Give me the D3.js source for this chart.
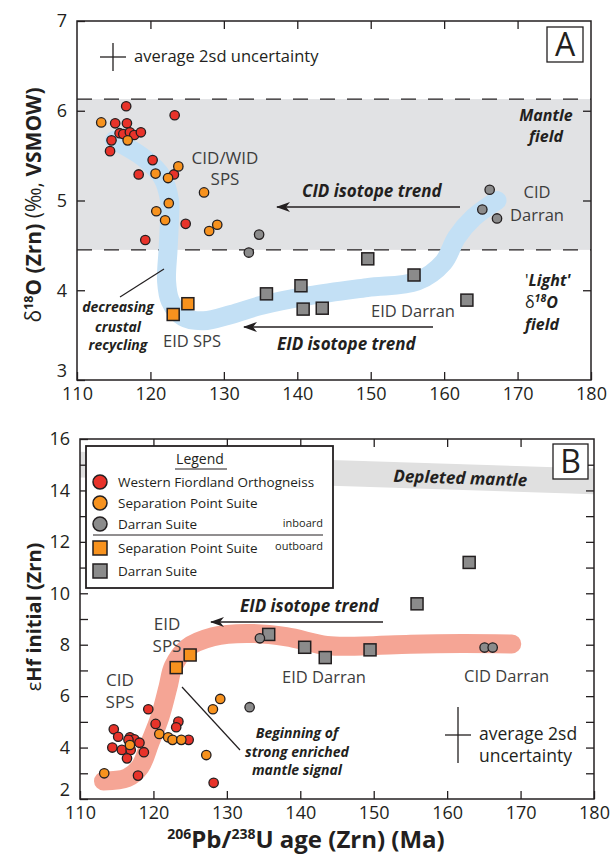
<!DOCTYPE html>
<html><head><meta charset="utf-8">
<script src="https://cdn.jsdelivr.net/npm/d3@7"></script>
<style>body{margin:0;background:#fff}svg{display:block}text{font-family:"Open Sans",sans-serif}</style>
</head><body><svg id="c" width="616" height="855"></svg>
<script>
// ---------- DATA ----------
const xTicks = [110,120,130,140,150,160,170,180];
const yTicksA = [3,4,5,6,7];
const yTicksB = [2,3,4,5,6,7,8,9,10,11,12,13,14,15,16];
const mantleField = [4.45, 6.13];

// Panel A: [age Ma, d18O]
const aWFO = [[116.7,6.05],[115.2,5.86],[116.8,5.86],[123.3,5.95],[115.8,5.75],[116.3,5.74],[117.2,5.76],[117.8,5.73],[118.7,5.76],[114.7,5.67],[114.5,5.55],[120.3,5.45],[118.4,5.29],[123.2,5.29],[124.8,4.74],[119.3,4.56]];
const aSPS = [[113.3,5.87],[116.9,5.67],[123.8,5.38],[120.7,5.30],[122.4,5.25],[127.3,5.09],[122.5,4.97],[120.8,4.88],[122.0,4.78],[128.0,4.66],[129.1,4.73]];
const aDarranIn = [[134.8,4.62],[133.4,4.42],[166.2,5.12],[165.2,4.90],[167.2,4.80]];
const aSPSout = [[123.1,3.73],[125.1,3.85]];
const aDarranOut = [[135.8,3.96],[140.5,4.05],[140.8,3.79],[143.4,3.80],[149.6,4.35],[155.9,4.17],[163.1,3.89]];
const aTrend = [[115.1,5.67],[119.0,5.48],[121.6,5.26],[122.6,5.0],[122.6,4.8],[122.4,4.45],[122.2,4.1],[122.7,3.88],[124.5,3.70],[127.2,3.66],[131,3.73],[135,3.83],[141.7,3.94],[149.5,4.03],[156.3,4.1],[159.9,4.31],[161.7,4.59],[164.0,4.81],[167.2,5.0]];

// Panel B: [age Ma, eHf]
const bWFO = [[119.3,5.49],[120.3,4.92],[123.4,5.01],[123.1,4.79],[124.8,4.30],[114.6,4.71],[115.2,4.42],[116.8,4.40],[117.4,4.32],[118.1,4.19],[116.6,4.30],[114.4,4.0],[115.7,3.91],[116.9,3.91],[118.7,3.82],[116.4,3.58],[117.9,2.91],[128.2,2.63]];
const bSPS = [[120.8,4.53],[122.0,4.40],[122.6,4.30],[123.8,4.30],[116.8,4.10],[113.3,3.0],[127.2,3.71],[128.1,5.49],[129.1,5.89]];
const bDarranIn = [[134.5,8.25],[133.1,5.57],[165.1,7.89],[166.2,7.89]];
const bSPSout = [[123.1,7.11],[125.0,7.60]];
const bDarranOut = [[135.7,8.40],[140.6,7.90],[143.4,7.50],[149.5,7.80],[155.9,9.59],[163.0,11.2]];
const bTrend = [[113.2,2.7],[116.4,2.82],[118.2,3.26],[119.5,4.17],[120.9,5.2],[122.0,6.37],[122.7,7.15],[124.5,7.86],[128.1,8.31],[132.7,8.44],[138.1,8.31],[143.6,7.97],[148.5,7.95],[155,8.02],[162,8.05],[168.8,8.03]];
const depletedMantle = [[110,15.0],[180,14.35]];
const dmHalfWidth = 0.5;

const legendLabels = ["Western Fiordland Orthogneiss","Separation Point Suite","Darran Suite","Separation Point Suite","Darran Suite"];

// ---------- STYLE ----------
const C = {red:"#e8332a", orange:"#f7921e", grey:"#8b8b8b", ink:"#231f20", lab:"#3d3d3d",
           shade:"#e1e2e4", blue:"#c3e0f5", salmon:"#f5a595", dm:"#e0e0e0"};

const svg = d3.select("#c");
const defs = svg.append("defs");
defs.append("marker").attr("id","arr").attr("viewBox","-14 -6 16 12")
  .attr("markerWidth",16).attr("markerHeight",12).attr("refX",0).attr("refY",0)
  .attr("markerUnits","userSpaceOnUse").attr("orient","auto")
  .append("path").attr("d","M1,0 L-13,-5 L-9,0 L-13,5 Z").attr("fill",C.ink);

// scales
const xA = d3.scaleLinear().domain([110,180]).range([77,591]);
const yA = d3.scaleLinear().domain([3,7]).range([380,21]);
const xB = d3.scaleLinear().domain([110,180]).range([80,594]);
const yB = d3.scaleLinear().domain([2,16]).range([799,439]);

function styleAxis(g, fs){
  g.select(".domain").remove();
  g.selectAll(".tick line").attr("stroke",C.ink).attr("stroke-width",1.3);
  g.selectAll(".tick text").attr("fill",C.ink).attr("font-size",fs).attr("font-family","Open Sans");
  return g;
}

function marks(g, x, y, data, shape, color){
  if(shape==="c"){
    g.selectAll(null).data(data).enter().append("circle")
      .attr("cx",d=>x(d[0])).attr("cy",d=>y(d[1])).attr("r",4.7)
      .attr("fill",color).attr("stroke",C.ink).attr("stroke-width",1.3);
  } else {
    const s=12;
    g.selectAll(null).data(data).enter().append("rect")
      .attr("x",d=>x(d[0])-s/2).attr("y",d=>y(d[1])-s/2).attr("width",s).attr("height",s)
      .attr("fill",color).attr("stroke",C.ink).attr("stroke-width",1.5);
  }
}

function txt(x,y,s,o={}){
  const t = svg.append("text").attr("x",x).attr("y",y).text(s)
    .attr("font-size",o.fs||15).attr("fill",o.fill||C.ink)
    .attr("text-anchor",o.anchor||"start");
  if(o.bi){t.attr("font-weight","bold").attr("font-style","italic");}
  if(o.b){t.attr("font-weight","bold");}
  return t;
}
function arrow(x1,x2,y){
  svg.append("line").attr("x1",x1).attr("x2",x2).attr("y1",y).attr("y2",y)
    .attr("stroke",C.ink).attr("stroke-width",1.5).attr("marker-end","url(#arr)");
}
function cross(cx,cy,hw,vh){
  svg.append("line").attr("x1",cx-hw).attr("x2",cx+hw).attr("y1",cy).attr("y2",cy).attr("stroke",C.ink).attr("stroke-width",1.3);
  svg.append("line").attr("x1",cx).attr("x2",cx).attr("y1",cy-vh).attr("y2",cy+vh).attr("stroke",C.ink).attr("stroke-width",1.3);
}
const fmt = d3.format("d");

// ---------- PANEL A ----------
const gA = svg.append("g");
gA.append("rect").attr("x",xA(110)).attr("width",xA(180)-xA(110))
  .attr("y",yA(mantleField[1])).attr("height",yA(mantleField[0])-yA(mantleField[1])).attr("fill",C.shade);
mantleField.forEach(v=>{
  gA.append("line").attr("x1",xA(110)).attr("x2",xA(180)).attr("y1",yA(v)).attr("y2",yA(v))
    .attr("stroke",C.ink).attr("stroke-width",1.4).attr("stroke-dasharray","15 12");
});
gA.append("path").datum(aTrend)
  .attr("d",d3.line().x(d=>xA(d[0])).y(d=>yA(d[1])).curve(d3.curveCatmullRom))
  .attr("fill","none").attr("stroke",C.blue).attr("stroke-width",19).attr("stroke-linecap","round").attr("stroke-linejoin","round");

styleAxis(gA.append("g").attr("transform","translate(0,380)")
  .call(d3.axisBottom(xA).tickValues(xTicks).tickSize(-8).tickPadding(7).tickFormat(fmt)),18);
styleAxis(gA.append("g").attr("transform","translate(0,21)")
  .call(d3.axisTop(xA).tickValues(xTicks.slice(1,-1)).tickSize(-8).tickFormat("")),18);
styleAxis(gA.append("g").attr("transform","translate(77,0)")
  .call(d3.axisLeft(yA).tickValues(yTicksA).tickSize(-8).tickPadding(10).tickFormat(fmt)),18)
  .selectAll(".tick text").filter(d=>d===3).attr("dy","-0.2em");
styleAxis(gA.append("g").attr("transform","translate(591,0)")
  .call(d3.axisRight(yA).tickValues(yTicksA.slice(1,-1)).tickSize(-8).tickFormat("")),18);
gA.append("rect").attr("x",77).attr("y",21).attr("width",514).attr("height",359)
  .attr("fill","none").attr("stroke",C.ink).attr("stroke-width",1.5);

marks(gA,xA,yA,aDarranOut,"s",C.grey);
marks(gA,xA,yA,aSPSout,"s",C.orange);
marks(gA,xA,yA,aDarranIn,"c",C.grey);
marks(gA,xA,yA,aWFO,"c",C.red);
marks(gA,xA,yA,aSPS,"c",C.orange);

// Panel A annotations
cross(113,57,13,14);
txt(134,62,"average 2sd uncertainty",{fs:16.5});
svg.append("rect").attr("x",547).attr("y",27).attr("width",36).attr("height",35).attr("fill","#fff").attr("stroke",C.ink).attr("stroke-width",1.3);
txt(565,56,"A",{fs:32,anchor:"middle"});
txt(546,121,"Mantle",{fs:16,bi:1,anchor:"middle"});
txt(546,142,"field",{fs:16,bi:1,anchor:"middle"});
txt(225,164,"CID/WID",{fs:17,fill:C.lab,anchor:"middle"});
txt(225,185,"SPS",{fs:17,fill:C.lab,anchor:"middle"});
txt(302,197,"CID isotope trend",{fs:17,bi:1});
arrow(460,277,207);
txt(537,198,"CID",{fs:16.5,fill:C.lab,anchor:"middle"});
txt(537,221,"Darran",{fs:16.5,fill:C.lab,anchor:"middle"});
{
  const t=txt(525,286,"'",{fs:16});
  t.append("tspan").text("Light'").attr("font-weight","bold").attr("font-style","italic");
  const t2=txt(525,308,"δ",{fs:16});
  t2.append("tspan").text("18").attr("font-size",10.5).attr("dy",-6).attr("font-weight","bold").attr("font-style","italic");
  t2.append("tspan").text("O").attr("dy",6).attr("font-weight","bold").attr("font-style","italic");
  txt(525,330,"field",{fs:16,bi:1});
}
txt(371,317,"EID Darran",{fs:16.5,fill:C.lab});
txt(277,350,"EID isotope trend",{fs:17,bi:1});
arrow(433,244,327);
txt(163,347,"EID SPS",{fs:16.5,fill:C.lab});
txt(118,312,"decreasing",{fs:14,bi:1,anchor:"middle"});
txt(118,332,"crustal",{fs:14,bi:1,anchor:"middle"});
txt(118,350,"recycling",{fs:14,bi:1,anchor:"middle"});
svg.append("line").attr("x1",120).attr("y1",297).attr("x2",164).attr("y2",269).attr("stroke",C.ink).attr("stroke-width",1.2);

// ---------- PANEL B ----------
const gB = svg.append("g");
const dmPoly = depletedMantle.map(d=>[xB(d[0]),yB(d[1]+dmHalfWidth)])
  .concat(depletedMantle.slice().reverse().map(d=>[xB(d[0]),yB(d[1]-dmHalfWidth)]));
gB.append("path").attr("d","M"+dmPoly.join("L")+"Z").attr("fill",C.dm);
gB.append("path").datum(bTrend)
  .attr("d",d3.line().x(d=>xB(d[0])).y(d=>yB(d[1])).curve(d3.curveCatmullRom))
  .attr("fill","none").attr("stroke",C.salmon).attr("stroke-width",19).attr("stroke-linecap","round").attr("stroke-linejoin","round");

styleAxis(gB.append("g").attr("transform","translate(0,799)")
  .call(d3.axisBottom(xB).tickValues(xTicks).tickSize(-8).tickPadding(7).tickFormat(fmt)),18);
styleAxis(gB.append("g").attr("transform","translate(0,439)")
  .call(d3.axisTop(xB).tickValues(xTicks.slice(1,-1)).tickSize(-8).tickFormat("")),18);
styleAxis(gB.append("g").attr("transform","translate(80,0)")
  .call(d3.axisLeft(yB).tickValues(yTicksB).tickSize(-8).tickPadding(10).tickFormat(d=>d%2===0?fmt(d):"")),18)
  .selectAll(".tick text").filter(d=>d===2).attr("dy","-0.2em");
styleAxis(gB.append("g").attr("transform","translate(594,0)")
  .call(d3.axisRight(yB).tickValues(yTicksB.slice(1,-1)).tickSize(-8).tickFormat("")),18);
gB.append("rect").attr("x",80).attr("y",439).attr("width",514).attr("height",360)
  .attr("fill","none").attr("stroke",C.ink).attr("stroke-width",1.5);

marks(gB,xB,yB,bDarranOut,"s",C.grey);
marks(gB,xB,yB,bSPSout,"s",C.orange);
marks(gB,xB,yB,bDarranIn,"c",C.grey);
marks(gB,xB,yB,bWFO,"c",C.red);
marks(gB,xB,yB,bSPS,"c",C.orange);

// Panel B annotations
svg.append("rect").attr("x",553).attr("y",444).attr("width",35).attr("height",35).attr("fill","#fff").attr("stroke",C.ink).attr("stroke-width",1.3);
txt(570.5,473,"B",{fs:32,anchor:"middle"});
txt(0,0,"Depleted mantle",{fs:17,bi:1,anchor:"middle"}).attr("transform","translate(460,484) rotate(1.9)");
txt(240,612,"EID isotope trend",{fs:17,bi:1});
arrow(383,211,622);
txt(167,630,"EID",{fs:17,fill:C.lab,anchor:"middle"});
txt(167,652,"SPS",{fs:17,fill:C.lab,anchor:"middle"});
txt(120,686,"CID",{fs:17,fill:C.lab,anchor:"middle"});
txt(120,708,"SPS",{fs:17,fill:C.lab,anchor:"middle"});
txt(282,683,"EID Darran",{fs:16.5,fill:C.lab});
txt(464,682,"CID Darran",{fs:16.5,fill:C.lab});
txt(297,738,"Beginning of",{fs:14,bi:1,anchor:"middle"});
txt(297,757,"strong enriched",{fs:14,bi:1,anchor:"middle"});
txt(297,775,"mantle signal",{fs:14,bi:1,anchor:"middle"});
svg.append("line").attr("x1",182).attr("y1",687).attr("x2",240).attr("y2",750).attr("stroke",C.ink).attr("stroke-width",1.2);
cross(458,735,13,28);
txt(479,740,"average 2sd",{fs:17.5});
txt(479,762,"uncertainty",{fs:17.5});

// Legend
const lg = svg.append("g");
lg.append("rect").attr("x",86).attr("y",446).attr("width",247).attr("height",142).attr("fill","#fff").attr("stroke",C.ink).attr("stroke-width",1.8);
txt(200,464,"Legend",{fs:14,anchor:"middle"});
svg.append("line").attr("x1",175).attr("x2",227).attr("y1",469).attr("y2",469).attr("stroke",C.ink).attr("stroke-width",1);
const legY = [482,503,524,548,571];
const legShape = ["c","c","c","s","s"];
const legCol = [C.red,C.orange,C.grey,C.orange,C.grey];
legendLabels.forEach((l,i)=>{
  if(legShape[i]==="c"){
    lg.append("circle").attr("cx",100).attr("cy",legY[i]).attr("r",7).attr("fill",legCol[i]).attr("stroke",C.ink).attr("stroke-width",1.5);
  } else {
    lg.append("rect").attr("x",93).attr("y",legY[i]-7).attr("width",14).attr("height",14).attr("fill",legCol[i]).attr("stroke",C.ink).attr("stroke-width",1.5);
  }
  txt(118,legY[i]+5,l,{fs:13.5});
});
svg.append("line").attr("x1",93).attr("x2",323).attr("y1",535).attr("y2",535).attr("stroke",C.ink).attr("stroke-width",1);
txt(323,527,"inboard",{fs:11,anchor:"end"});
txt(323,550,"outboard",{fs:11,anchor:"end"});

// Axis titles
{
  const t = svg.append("text").attr("transform","translate(41,205) rotate(-90)").attr("text-anchor","middle").attr("font-size",21).attr("fill",C.ink);
  t.append("tspan").text("δ");
  t.append("tspan").text("18").attr("font-size",12.5).attr("dy",-8).attr("font-weight","bold");
  t.append("tspan").text("O (Zrn) ").attr("dy",8).attr("font-weight","bold");
  t.append("tspan").text("(‰, ");
  t.append("tspan").text("VSMOW)").attr("font-weight","bold");
  const t2 = svg.append("text").attr("transform","translate(41,617) rotate(-90)").attr("text-anchor","middle").attr("font-size",20).attr("fill",C.ink);
  t2.append("tspan").text("ε");
  t2.append("tspan").text("Hf initial (Zrn)").attr("font-weight","bold");
  const t3 = svg.append("text").attr("x",306).attr("y",848).attr("text-anchor","middle").attr("font-size",24).attr("font-weight","bold").attr("fill",C.ink);
  t3.append("tspan").text("206").attr("font-size",14).attr("dy",-9);
  t3.append("tspan").text("Pb/").attr("dy",9);
  t3.append("tspan").text("238").attr("font-size",14).attr("dy",-9);
  t3.append("tspan").text("U age (Zrn) (Ma)").attr("dy",9);
}
</script></body></html>
